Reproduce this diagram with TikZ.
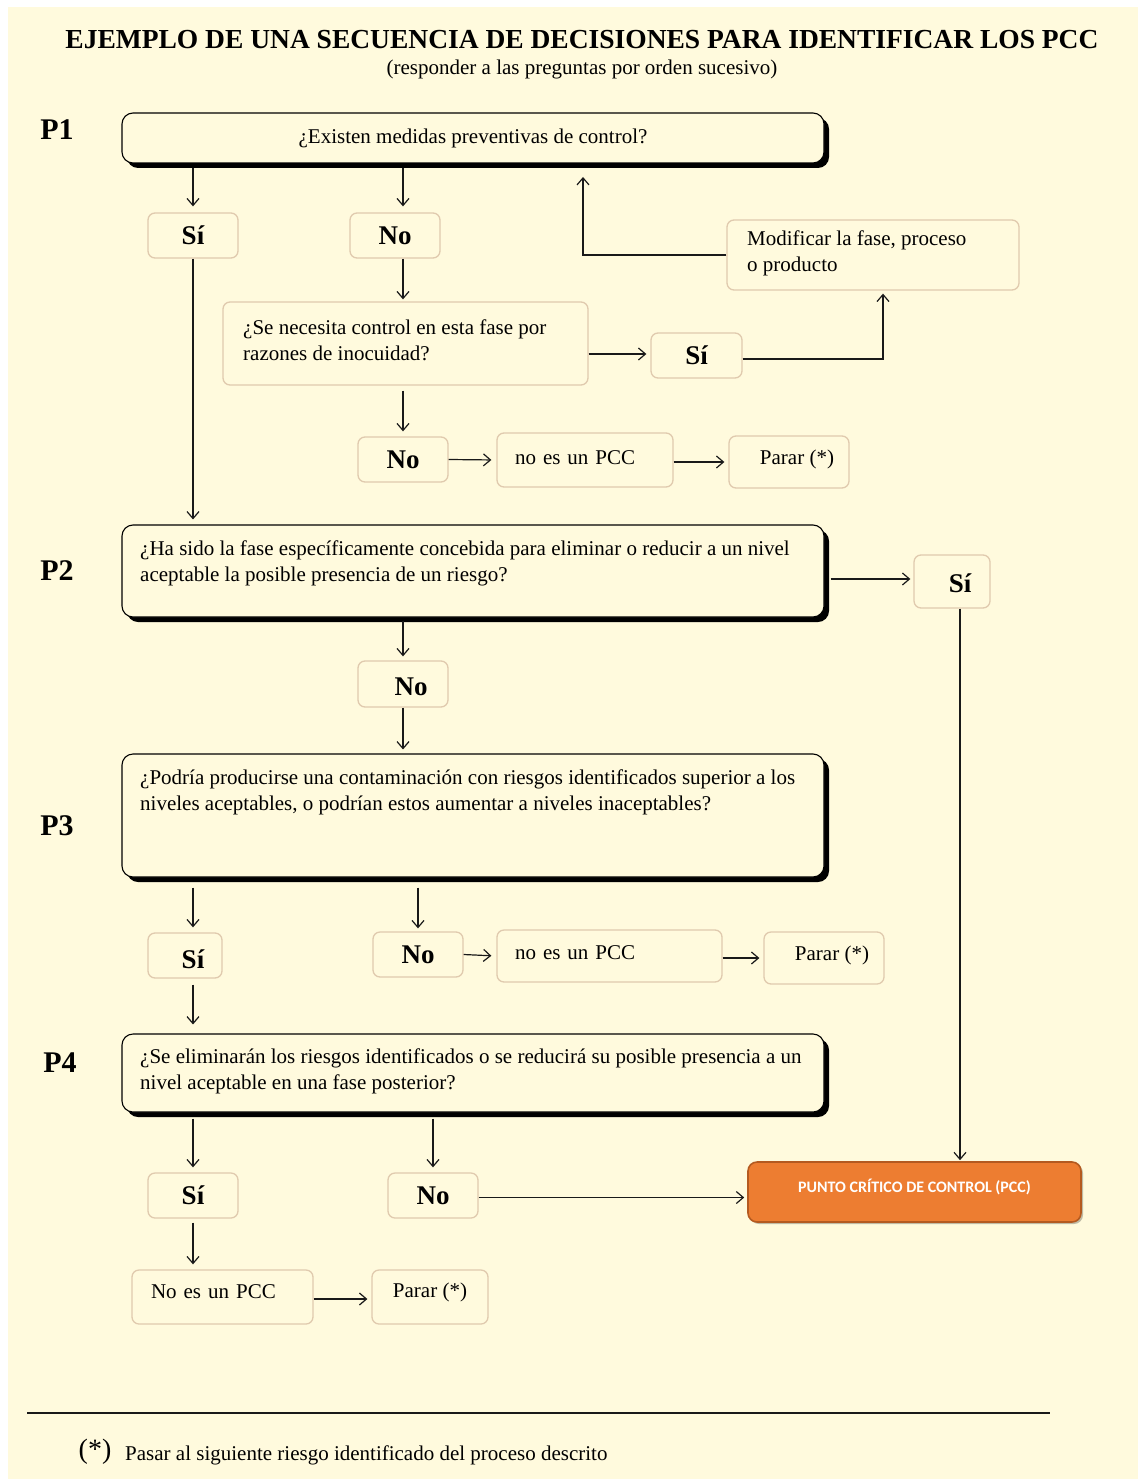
\documentclass[tikz,border=0pt]{standalone}
\usepackage{fontspec}
\setmainfont{Liberation Serif}
\newfontfamily\labelsans{Carlito}
\usetikzlibrary{arrows.meta,shadows,calc}
\definecolor{cream}{RGB}{255,250,221}
\definecolor{tanline}{RGB}{224,202,174}
\definecolor{pccfill}{RGB}{237,125,49}
\definecolor{pccline}{RGB}{180,90,32}
\definecolor{ink}{RGB}{25,25,25}
% move a label up (positive) or down (negative) without changing its box size
\newcommand{\nudge}[2]{\raisebox{#1}[\height][\depth]{#2}}

\begin{document}
\begin{tikzpicture}[x=1pt,y=-1pt,
  body/.style={font=\fontsize{21}{25.5}\selectfont},
  txt/.style={body, inner sep=0pt, align=left},
  answer/.style={font=\fontsize{27}{27}\selectfont\bfseries},
  plabel/.style={font=\fontsize{30}{30}\selectfont\bfseries, inner sep=0pt},
  sbox/.style={draw=tanline, fill=cream, line width=1.3pt, rounded corners=7pt, inner sep=0pt},
  bigbox/.style={draw=black, fill=cream, line width=1.1pt, rounded corners=11pt, inner sep=0pt,
    drop shadow={shadow xshift=5pt, shadow yshift=-5pt, fill=black, opacity=1}},
  pccbox/.style={draw=pccline, fill=pccfill, line width=1.6pt, rounded corners=9pt, inner sep=0pt,
    drop shadow={shadow xshift=2pt, shadow yshift=-2pt, fill=black, opacity=.25}},
  arr/.style={draw=ink, line width=1.2pt, -{Straight Barb[length=7pt,width=12pt]}},
  ln/.style={draw=ink, line width=1.2pt},
]
% page and background
\useasboundingbox (0,0) rectangle (1138,1479);
\fill[white] (0,0) rectangle (1138,1479);
\fill[cream] (8,7) rectangle (1138,1479);

% heading
\node[font=\fontsize{27.5}{30}\selectfont\bfseries, inner sep=0pt] (title) at (582,40)
  {EJEMPLO DE UNA SECUENCIA DE DECISIONES PARA IDENTIFICAR LOS PCC};
\node[body, inner sep=0pt] (subtitle) at (582,69) {(responder a las preguntas por orden sucesivo)};

% question labels
\node[plabel] (lp1) at (57,130) {P1};
\node[plabel] (lp2) at (57,571) {P2};
\node[plabel] (lp3) at (57,826) {P3};
\node[plabel] (lp4) at (60,1063) {P4};

% ---- P1 ----
\node[bigbox, body, minimum width=702, minimum height=50] (p1) at (473,138)
  {¿Existen medidas preventivas de control?};
\node[sbox, answer, minimum width=90, minimum height=45] (sia) at (193,235.5) {Sí};
\node[sbox, answer, minimum width=90, minimum height=45] (noa) at (395,235.5) {No};
\node[sbox, minimum width=292, minimum height=70] (moda) at (873,255) {};
\node[txt, anchor=north west] (modtxt) at (747,231) {Modificar la fase, proceso\\o producto};
\coordinate (back) at (583,177);

\node[sbox, minimum width=365, minimum height=83] (qa) at (405.5,343.5) {};
\node[txt, anchor=north west] (qtxt) at (243,320) {¿Se necesita control en esta fase por\\razones de inocuidad?};
\node[sbox, answer, minimum width=91, minimum height=45] (sib) at (696.5,355.5) {Sí};
\node[sbox, answer, minimum width=90, minimum height=45] (nob) at (403,459.5) {No};
\node[sbox, body, minimum width=176, minimum height=54, text width=140, align=left] (pcca) at (585,460)
  {\nudge{2pt}{no es un PCC}};
\node[sbox, body, minimum width=120, minimum height=52] (para) at (789,462)
  {\hspace*{16pt}\nudge{3pt}{Parar (*)}};

% ---- P2 ----
\node[bigbox, minimum width=702, minimum height=92] (p2) at (473,571) {};
\node[txt, anchor=north west] (p2txt) at (140,541)
  {¿Ha sido la fase específicamente concebida para eliminar o reducir a un nivel\\aceptable la posible presencia de un riesgo?};
\node[sbox, answer, minimum width=76, minimum height=53] (sic) at (952,581.5) {\hspace*{16pt}\nudge{-1.5pt}{Sí}};
\node[sbox, answer, minimum width=90, minimum height=46] (noc) at (403,684) {\hspace*{16pt}\nudge{-3pt}{No}};

% ---- P3 ----
\node[bigbox, minimum width=702, minimum height=123] (p3) at (473,815.5) {};
\node[txt, anchor=north west] (p3txt) at (140,770)
  {¿Podría producirse una contaminación con riesgos identificados superior a los\\niveles aceptables, o podrían estos aumentar a niveles inaceptables?};
\node[sbox, answer, minimum width=74, minimum height=45] (sid) at (185,955.5) {\hspace*{16pt}\nudge{-4pt}{Sí}};
\node[sbox, answer, minimum width=90, minimum height=45] (nod) at (418,954.5) {No};
\node[sbox, body, minimum width=225, minimum height=52, text width=189, align=left] (pccb) at (609.5,956)
  {\nudge{3pt}{no es un PCC}};
\node[sbox, body, minimum width=120, minimum height=52] (parb) at (824,958)
  {\hspace*{16pt}\nudge{3pt}{Parar (*)}};

% ---- P4 ----
\node[bigbox, minimum width=702, minimum height=78] (p4) at (473,1073) {};
\node[txt, anchor=north west] (p4txt) at (140,1049)
  {¿Se eliminarán los riesgos identificados o se reducirá su posible presencia a un\\nivel aceptable en una fase posterior?};
\node[sbox, answer, minimum width=90, minimum height=45] (sie) at (193,1195.5) {Sí};
\node[sbox, answer, minimum width=90, minimum height=45] (noe) at (433,1195.5) {No};
\node[pccbox, minimum width=333, minimum height=60, text=white, font=\labelsans\fontsize{16}{16}\selectfont\bfseries] (pcc) at (914.5,1192)
  {\nudge{5pt}{PUNTO CRÍTICO DE CONTROL (PCC)}};
\node[sbox, body, minimum width=181, minimum height=54, text width=143, align=left] (pccc) at (222.5,1297)
  {\nudge{5pt}{No es un PCC}};
\node[sbox, body, minimum width=116, minimum height=54] (parc) at (430,1297)
  {\nudge{5pt}{Parar (*)}};

% ---- connectors ----
\draw[arr, shorten <=4pt, shorten >=6pt] (sia.north |- p1.south) -- (sia.north);
\draw[arr, shorten <=4pt, shorten >=6pt] ([xshift=8pt]noa.north |- p1.south) -- ([xshift=8pt]noa.north);
\draw[arr] (moda.west) -| (back);
\draw[arr, shorten >=5pt] (sia.south) -- (sia.south |- p2.north);
\draw[arr, shorten >=2pt] ([xshift=8pt]noa.south) -- ([xshift=8pt]noa.south |- qa.north);
\draw[arr, shorten >=4pt] ([yshift=1.5pt]sib.west -| qa.east) -- ([yshift=1.5pt]sib.west);
\draw[arr, shorten >=3pt] ([yshift=-3.5pt]sib.east) -| ([xshift=10pt]moda.south);
\draw[arr, shorten <=5pt, shorten >=5pt] (nob.north |- qa.south) -- (nob.north);
\draw[arr, shorten >=5pt] (nob.east) -- (pcca.west);
\draw[arr, shorten >=4pt] ([yshift=-2pt]pcca.east) -- ([yshift=-2pt]pcca.east -| para.west);

\draw[arr, shorten <=6pt, shorten >=3pt] ([yshift=2.5pt]sic.west -| p2.east) -- ([yshift=2.5pt]sic.west);
\draw[arr, shorten >=1pt] ([xshift=8pt]sic.south) -- ([xshift=8pt]sic.south |- pcc.north);
\draw[arr, shorten <=3pt, shorten >=4pt] (noc.north |- p2.south) -- (noc.north);
\draw[arr, shorten >=4pt] (noc.south) -- (noc.south |- p3.north);

\draw[arr, shorten <=10pt, shorten >=5pt] ([xshift=8pt]sid.north |- p3.south) -- ([xshift=8pt]sid.north);
\draw[arr, shorten <=10pt, shorten >=3pt] (nod.north |- p3.south) -- (nod.north);
\draw[arr, shorten >=5pt] (nod.east) -- (pccb.west);
\draw[arr, shorten >=4pt] ([yshift=-2pt]pccb.east) -- ([yshift=-2pt]pccb.east -| parb.west);
\draw[arr, shorten <=6pt, shorten >=9pt] ([xshift=8pt]sid.south) -- ([xshift=8pt]sid.south |- p4.north);

\draw[arr, shorten <=6pt, shorten >=5pt] (sie.north |- p4.south) -- (sie.north);
\draw[arr, shorten <=6pt, shorten >=5pt] (noe.north |- p4.south) -- (noe.north);
\draw[arr, shorten >=3pt] ([yshift=-2pt]noe.east) -- ([yshift=-2pt]noe.east -| pcc.west);
\draw[arr, shorten <=4pt, shorten >=5pt] (sie.south) -- (sie.south |- pccc.north);
\draw[arr, shorten >=4pt] ([yshift=-2pt]pccc.east) -- ([yshift=-2pt]pccc.east -| parc.west);

% footnote
\draw[line width=2pt, ink] (27,1413) -- (1050,1413);
\node[font=\fontsize{28}{28}\selectfont, inner sep=0pt] (star) at (95,1452) {(*)};
\node[body, inner sep=0pt, anchor=west] (note) at (125,1455) {Pasar al siguiente riesgo identificado del proceso descrito};
\end{tikzpicture}
\end{document}
